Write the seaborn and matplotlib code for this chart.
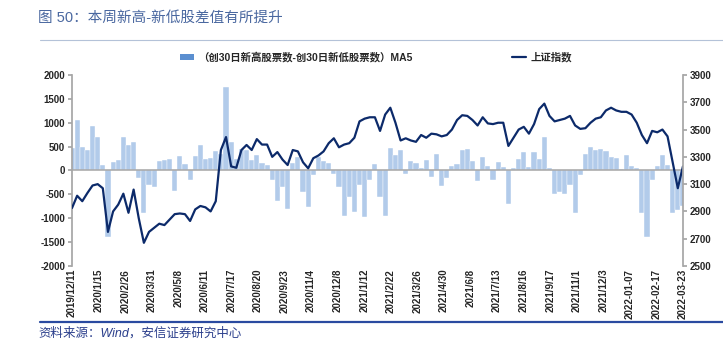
import numpy as np
import pandas as pd
import seaborn as sns
import matplotlib.pyplot as plt
from matplotlib.lines import Line2D
from matplotlib.patches import Patch

# x-axis labels (evenly spaced over the sampled period)
date_labels = ['2019/12/11', '2020/1/15', '2020/2/26', '2020/3/31', '2020/5/8', '2020/6/11',
               '2020/7/17', '2020/8/20', '2020/9/23', '2020/11/4', '2020/12/8', '2021/1/12',
               '2021/2/22', '2021/3/26', '2021/4/30', '2021/6/8', '2021/7/13', '2021/8/16',
               '2021/9/17', '2021/11/1', '2021/12/3', '2022-01-07', '2022-02-17', '2022-03-23']

# (new 30d highs - new 30d lows) MA5, roughly weekly samples
spread_ma5 = [475, 1050, 500, 420, 930, 700, 120, -1400, 180, 220,
              700, 540, 590, -150, -900, -300, -350, 200, 220, 240,
              -420, 300, 130, -190, 300, 530, 250, 260, 400, 350,
              1750, 600, 250, 450, 420, 220, 330, 150, 120, -200,
              -640, -350, -800, 150, 280, -450, -770, -100, 280, 200,
              150, -80, -350, -950, -550, -860, -300, -980, -200, 140,
              -550, -950, 480, 330, 420, -80, 200, 150, 60, 220,
              -130, 350, -320, -150, 100, 130, 420, 440, 200, -220,
              280, 100, -200, 180, 80, -700, 60, 250, 380, 80,
              380, 250, 700, 60, -500, -450, -500, -300, -880, -100,
              350, 500, 430, 460, 400, 290, 260, 40, 330, 100,
              60, -900, -1400, -200, 100, 330, 120, -880, -820, -750]

# Shanghai Composite, same sampling
sh_index = [2925, 3015, 2975, 3035, 3090, 3100, 3070, 2750, 2900, 2950,
            3030, 2890, 3060, 2850, 2670, 2750, 2780, 2810, 2800, 2840,
            2880, 2885, 2880, 2830, 2915, 2940, 2930, 2900, 2975, 3350,
            3445, 3230, 3220, 3350, 3387, 3350, 3430, 3390, 3390, 3300,
            3335, 3280, 3240, 3350, 3340, 3260, 3216, 3290, 3310, 3340,
            3400, 3436, 3370, 3390, 3400, 3440, 3560, 3580, 3590, 3590,
            3490, 3610, 3660, 3550, 3420, 3436, 3420, 3410, 3460, 3440,
            3470, 3465, 3450, 3460, 3500, 3570, 3605, 3600, 3570, 3530,
            3590, 3545, 3540, 3550, 3550, 3380, 3440, 3500, 3520, 3470,
            3540, 3650, 3690, 3600, 3560, 3570, 3580, 3600, 3530, 3505,
            3510, 3550, 3580, 3590, 3640, 3660, 3640, 3630, 3630, 3610,
            3550, 3460, 3400, 3490, 3480, 3500, 3450, 3260, 3070, 3230]

n = len(sh_index)
df = pd.DataFrame({'idx': np.arange(n), 'spread': spread_ma5, 'sh': sh_index})

sns.set_theme(style='white')
plt.rcParams['font.family'] = ['Liberation Sans', 'Noto Sans CJK SC', 'DejaVu Sans']
plt.rcParams['axes.unicode_minus'] = False

bar_color = '#b2cbea'
line_color = '#0c2a6a'
axis_gray = '#a6a6a6'

fig = plt.figure(figsize=(7.23, 3.52), dpi=100)
ax = fig.add_axes([0.0996, 0.2443, 0.845, 0.5427])

sns.barplot(data=df, x='idx', y='spread', color=bar_color, saturation=1, width=1.0,
            edgecolor='white', linewidth=0.3, ax=ax)
ax.axhline(0, color=axis_gray, lw=1.1, zorder=3)

ax2 = ax.twinx()
sns.lineplot(data=df, x='idx', y='sh', color=line_color, linewidth=1.6, ax=ax2)

ax.set_xlim(0, n - 1)
ax.set_ylim(-2000, 2000)
ax2.set_ylim(2500, 3900)
ax.set_yticks(np.arange(-2000, 2001, 500))
ax2.set_yticks(np.arange(2500, 3901, 200))
ax.set_xticks(np.linspace(0, n - 1, len(date_labels)))
ax.set_xticklabels(date_labels, rotation=90, fontsize=7, fontweight='bold')
ax.set_xlabel('')
ax.set_ylabel('')
ax2.set_ylabel('')

for a in (ax, ax2):
    for s in a.spines.values():
        s.set_visible(False)
ax.spines['left'].set_visible(True)
ax.spines['left'].set_color(axis_gray)
ax2.spines['right'].set_visible(True)
ax2.spines['right'].set_color(axis_gray)

ax.tick_params(axis='y', direction='out', length=3, color=axis_gray, labelsize=7, pad=2, left=True)
ax.tick_params(axis='x', length=0, pad=2)
ax2.tick_params(axis='y', direction='out', length=3, color=axis_gray, labelsize=7, pad=2, right=True)
for lab in ax.get_yticklabels() + ax2.get_yticklabels():
    lab.set_fontweight('bold')

handles = [Patch(facecolor='#5b8fd0', edgecolor='none'),
           Line2D([], [], color=line_color, lw=1.6)]
labels = ['（创30日新高股票数-创30日新低股票数）MA5', '上证指数']
fig.legend(handles, labels, loc='center', bbox_to_anchor=(0.52, 0.838), ncol=2,
           frameon=False, columnspacing=9.5, handlelength=1.4, handleheight=0.55,
           handletextpad=0.4, prop={'weight': 'bold', 'size': 7.5})

fig.text(0.053, 0.949, '图 50：本周新高-新低股差值有所提升', fontsize=10.5,
         color='#4a68a0', va='center', ha='left')
fig.add_artist(Line2D([0.055, 1.0], [0.886, 0.886], color='#b4c2d8', lw=0.8))
fig.add_artist(Line2D([0.055, 1.0], [0.085, 0.085], color='#2a4aa0', lw=1.6))
fig.text(0.053, 0.052, '资料来源：Wind，安信证券研究中心', fontsize=9, style='italic',
         color='#2b3f8c', va='center', ha='left')

fig.savefig('out.png', dpi=100)
